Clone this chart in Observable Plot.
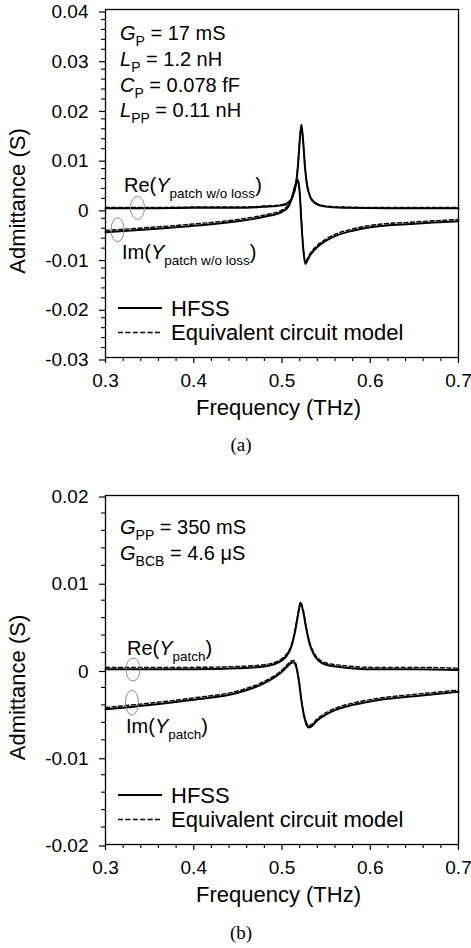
<!DOCTYPE html>
<html><head><meta charset="utf-8">
<script src="https://cdn.jsdelivr.net/npm/d3@7"></script>
<script src="https://cdn.jsdelivr.net/npm/@observablehq/plot@0.6"></script>
<style>
body{margin:0;background:#fff;}
#wrap{position:relative;width:471px;height:948px;overflow:hidden;background:#fff;}
.panel{position:absolute;left:0;}
.cap{position:absolute;width:60px;margin-left:-30px;text-align:center;font-family:"Liberation Serif","Times New Roman",serif;font-size:19px;line-height:22px;color:#000;}
</style></head><body>
<div id="wrap">
  <div id="a" class="panel" style="top:0px"></div>
  <div class="cap" style="left:241px;top:434px">(a)</div>
  <div id="b" class="panel" style="top:465px"></div>
  <div class="cap" style="left:241px;top:922px">(b)</div>
</div>
<script>
// ---------- data ----------
const xTicks = [0.3, 0.4, 0.5, 0.6, 0.7];
const yTicksA = [-0.03, -0.02, -0.01, 0, 0.01, 0.02, 0.03, 0.04];
const yTicksB = [-0.02, -0.01, 0, 0.01, 0.02];

// (a) Y_patch w/o loss
const freqReA = [0.30,0.35,0.40,0.45,0.48,0.50,0.507,0.512,0.516,0.518,0.520,0.522,0.524,0.526,0.528,0.532,0.537,0.547,0.57,0.62,0.70];
const reA     = [0,0,0.0001,0.0001,0.0003,0.0006,0.0011,0.0023,0.0051,0.0084,0.0134,0.0167,0.0134,0.0084,0.0051,0.0023,0.0011,0.0004,0.0001,0,0];
const freqImA = [0.30,0.35,0.40,0.45,0.48,0.50,0.507,0.512,0.515,0.5175,0.519,0.520,0.522,0.524,0.5265,0.529,0.532,0.536,0.54,0.55,0.56,0.58,0.60,0.65,0.70];
const imA     = [-0.0048,-0.0042,-0.0035,-0.0026,-0.0017,-0.0007,0.0003,0.0025,0.0045,0.0055,0.0048,0.0032,-0.0028,-0.0080,-0.0112,-0.0104,-0.0094,-0.0085,-0.0078,-0.0065,-0.0056,-0.0045,-0.0038,-0.0031,-0.0026];

// (b) Y_patch
const freqReB = [0.30,0.40,0.45,0.48,0.50,0.505,0.51,0.515,0.518,0.521,0.524,0.527,0.531,0.536,0.541,0.55,0.57,0.60,0.65,0.70];
const reB     = [0.0001,0.0001,0.0002,0.0004,0.0011,0.0016,0.0025,0.0045,0.0062,0.0076,0.0067,0.0050,0.0031,0.0018,0.0011,0.0006,0.0003,0.0001,0.0001,0.0000];
const freqImB = [0.30,0.35,0.40,0.45,0.48,0.50,0.505,0.51,0.513,0.516,0.519,0.522,0.525,0.528,0.530,0.533,0.537,0.54,0.55,0.56,0.58,0.60,0.62,0.65,0.70];
const imB     = [-0.0045,-0.0040,-0.0034,-0.0026,-0.0015,-0.0002,0.0003,0.0008,0.0009,0.0004,-0.0012,-0.0035,-0.0053,-0.0063,-0.0066,-0.0065,-0.0061,-0.0058,-0.0051,-0.0046,-0.0040,-0.0036,-0.0033,-0.0030,-0.0025];

const seriesNames = ["HFSS", "Equivalent circuit model"];
const paramsA = [
  [{t:"G",i:1},{t:"P",sub:1},{t:" = 17 mS"}],
  [{t:"L",i:1},{t:"P",sub:1},{t:" = 1.2 nH"}],
  [{t:"C",i:1},{t:"P",sub:1},{t:" = 0.078 fF"}],
  [{t:"L",i:1},{t:"PP",sub:1},{t:" = 0.11 nH"}]
];
const paramsB = [
  [{t:"G",i:1},{t:"PP",sub:1},{t:" = 350 mS"}],
  [{t:"G",i:1},{t:"BCB",sub:1},{t:" = 4.6 μS"}]
];
const reLabelA = [{t:"Re("},{t:"Y",i:1},{t:"patch w/o loss",sub:1},{t:")"}];
const imLabelA = [{t:"Im("},{t:"Y",i:1},{t:"patch w/o loss",sub:1},{t:")"}];
const reLabelB = [{t:"Re("},{t:"Y",i:1},{t:"patch",sub:1},{t:")"}];
const imLabelB = [{t:"Im("},{t:"Y",i:1},{t:"patch",sub:1},{t:")"}];

// ---------- helpers ----------
const FONT = '"Liberation Sans", Arial, Helvetica, sans-serif';
const fmtY = d => d === 0 ? "0" : (d < 0 ? "-" : "") + Math.abs(d).toFixed(2);
function minor(lo, hi, step, majors) {
  const n = Math.round((hi - lo) / step);
  return d3.range(n + 1).map(i => +(lo + i * step).toFixed(5))
    .filter(v => !majors.some(m => Math.abs(m - v) < 1e-9));
}
const xMinor = minor(0.3, 0.7, 0.02, xTicks);
const rows = (fs, vs) => fs.map((f, i) => ({f, v: vs[i]}));

function rich(svg, x, y, parts, size, subSize) {
  const t = d3.select(svg).append("text").attr("x", x).attr("y", y)
    .attr("text-anchor", "start")
    .attr("font-size", size).attr("fill", "black").attr("font-family", FONT);
  let shift = 0;
  for (const p of parts) {
    const s = t.append("tspan").text(p.t);
    const want = p.sub ? Math.round(size * 0.28) : 0;
    if (want !== shift) { s.attr("dy", want - shift); shift = want; }
    if (p.sub) s.attr("font-size", subSize);
    if (p.i) s.attr("font-style", "italic");
  }
}

function panel(cfg) {
  const yMinor = minor(cfg.yDomain[0], cfg.yDomain[1], 0.002, cfg.yTicks);
  const chart = Plot.plot({
    width: 471, height: cfg.height,
    marginLeft: 105, marginRight: 13, marginTop: cfg.mt, marginBottom: cfg.mb,
    style: {fontFamily: FONT, fontSize: "19px", color: "black", background: "white", overflow: "visible"},
    x: {domain: [0.3, 0.7]},
    y: {domain: cfg.yDomain},
    marks: [
      Plot.line(rows(cfg.fRe, cfg.re), {x: "f", y: "v", stroke: "black", strokeWidth: 2, curve: "monotone-x"}),
      Plot.line(rows(cfg.fIm, cfg.im), {x: "f", y: "v", stroke: "black", strokeWidth: 2, curve: "monotone-x"}),
      Plot.line(rows(cfg.fRe, cfg.re), {x: "f", y: "v", stroke: "black", strokeWidth: 1.4, strokeDasharray: "4,2.5", dy: cfg.reDy, curve: "monotone-x"}),
      Plot.line(rows(cfg.fIm, cfg.im), {x: "f", y: "v", stroke: "black", strokeWidth: 1.4, strokeDasharray: "4,2.5", dy: -1.8, curve: "monotone-x"}),
      Plot.frame({stroke: "black", strokeWidth: 1.3}),
      Plot.axisY({ticks: cfg.yTicks, tickSize: 6, tickPadding: 11, tickFormat: fmtY, label: null, strokeWidth: 1.2, dy: cfg.labDy}),
      Plot.axisY({ticks: yMinor, tickSize: 4, tickFormat: () => "", label: null, strokeWidth: 1.1}),
      Plot.axisX({ticks: xTicks, tickSize: 6, tickPadding: 10, tickFormat: d => d.toFixed(1), label: null, strokeWidth: 1.2}),
      Plot.axisX({ticks: xMinor, tickSize: 4, tickFormat: () => "", label: null, strokeWidth: 1.1})
    ]
  });
  const svg = chart;
  const sel = d3.select(svg);
  const xs = chart.scale("x"), ys = chart.scale("y");
  const left = 105, right = 471 - 13, top = cfg.mt, bottom = cfg.height - cfg.mb;

  // axis titles
  sel.append("text").attr("x", (left + right) / 2 - 3).attr("y", bottom + 58)
    .attr("text-anchor", "middle").attr("font-size", 22).attr("font-family", FONT).attr("fill", "black")
    .text("Frequency (THz)");
  sel.append("text").attr("transform", `translate(25,${(top + bottom) / 2 + 18}) rotate(-90)`)
    .attr("text-anchor", "middle").attr("font-size", 22).attr("font-family", FONT).attr("fill", "black")
    .text("Admittance (S)");

  // parameter block
  cfg.params.forEach((p, i) => rich(svg, left + 15, cfg.parY + i * 25.8, p, 20, 14));
  // curve labels
  rich(svg, cfg.reLab[0], cfg.reLab[1], cfg.reLabel, 20, 13.5);
  rich(svg, cfg.imLab[0], cfg.imLab[1], cfg.imLabel, 20, 13.5);
  // ellipses marking the curves
  cfg.ellipses.forEach(([f, v, rx, ry]) => {
    sel.append("ellipse").attr("cx", xs.apply(f)).attr("cy", ys.apply(v))
      .attr("rx", rx).attr("ry", ry).attr("fill", "none").attr("stroke", "#8c8c8c").attr("stroke-width", 1);
  });
  // legend
  const lx = left + 13, ly = bottom - 49;
  seriesNames.forEach((name, i) => {
    const y = ly + i * 24;
    sel.append("line").attr("x1", lx).attr("x2", lx + 44).attr("y1", i ? y + 0.5 : y).attr("y2", i ? y + 0.5 : y)
      .attr("stroke", "black").attr("stroke-width", i ? 1.3 : 2)
      .attr("stroke-dasharray", i ? "5,2.4" : null);
    sel.append("text").attr("x", lx + 53).attr("y", y + 7.5).attr("font-size", 22)
      .attr("text-anchor", "start")
      .attr("font-family", FONT).attr("fill", "black").text(name);
  });
  document.getElementById(cfg.id).appendChild(svg);
}

panel({
  id: "a", height: 430, mt: 9, mb: 73, yDomain: [-0.03, 0.04], yTicks: yTicksA, labDy: 2.5,
  fRe: freqReA, re: reA, fIm: freqImA, im: imA, reDy: -0.8,
  params: paramsA, parY: 40,
  reLabel: reLabelA, imLabel: imLabelA, reLab: [124, 192], imLab: [122, 259],
  ellipses: [[0.3368, 0, 7, 11.5], [0.3142, -0.0044, 6.5, 12]]
});
panel({
  id: "b", height: 455, mt: 30, mb: 76, yDomain: [-0.02, 0.02], yTicks: yTicksB, labDy: 1.5,
  fRe: freqReB, re: reB, fIm: freqImB, im: imB, reDy: -1.8,
  params: paramsB, parY: 69,
  reLabel: reLabelB, imLabel: imLabelB, reLab: [127, 190], imLab: [126, 268],
  ellipses: [[0.3317, 0, 7, 11.5], [0.3306, -0.0038, 6.5, 12.5]]
});
</script>
</body></html>
